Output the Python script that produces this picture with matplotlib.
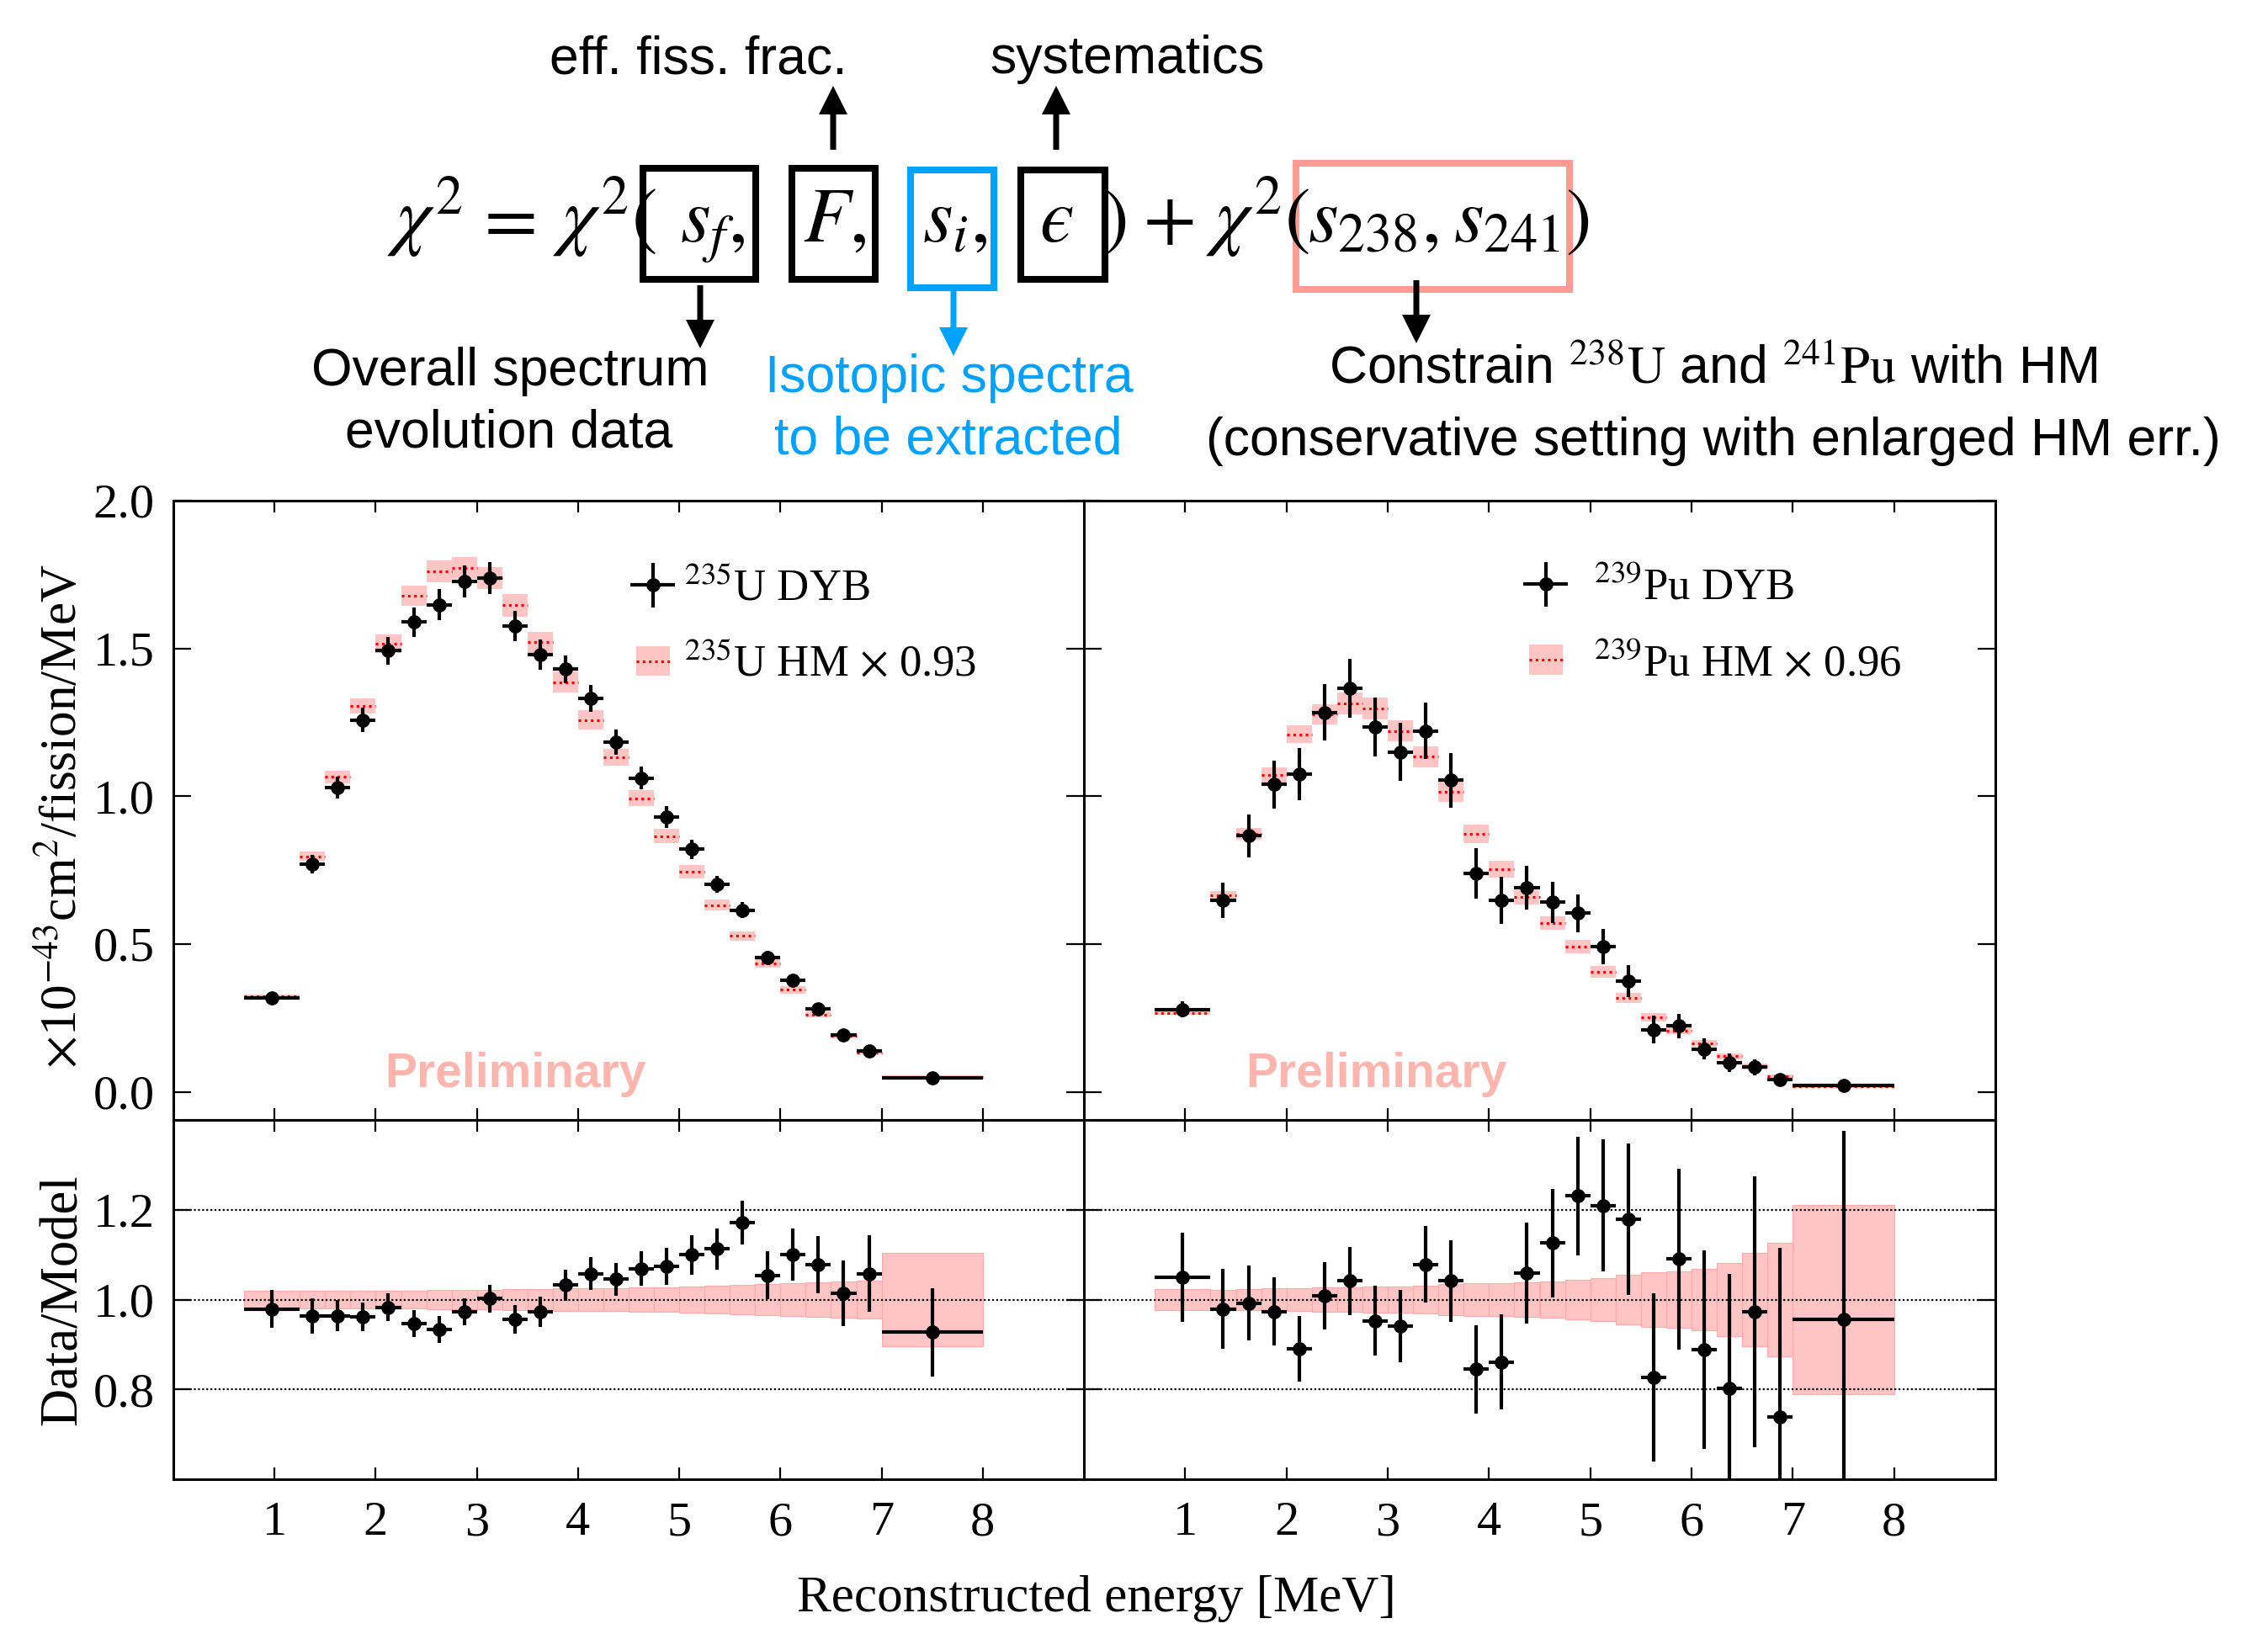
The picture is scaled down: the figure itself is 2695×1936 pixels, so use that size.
import matplotlib
matplotlib.use('Agg')
import matplotlib.pyplot as plt
import matplotlib.transforms as mtransforms
from matplotlib.patches import Rectangle, FancyArrow, Patch
from matplotlib.lines import Line2D
import numpy as np

plt.rcParams['font.family'] = ['Liberation Serif', 'DejaVu Serif']
plt.rcParams['mathtext.fontset'] = 'stix'

# ---------------- data ----------------
bin_edges = [0.7, 1.25, 1.5, 1.75, 2.0, 2.25, 2.5, 2.75, 3.0, 3.25, 3.5, 3.75,
             4.0, 4.25, 4.5, 4.75, 5.0, 5.25, 5.5, 5.75, 6.0, 6.25, 6.5, 6.75,
             7.0, 8.0]

u235_dyb = [0.317, 0.770, 1.028, 1.258, 1.492, 1.589, 1.648, 1.727, 1.738, 1.575,
            1.479, 1.430, 1.331, 1.183, 1.062, 0.930, 0.821, 0.702, 0.615, 0.455,
            0.378, 0.281, 0.193, 0.138, 0.047]
u235_dyb_err = [0.014, 0.031, 0.037, 0.042, 0.047, 0.050, 0.053, 0.053, 0.054, 0.051,
                0.050, 0.047, 0.045, 0.042, 0.039, 0.036, 0.033, 0.029, 0.026, 0.023,
                0.020, 0.017, 0.014, 0.011, 0.005]
u235_hm = [0.323, 0.797, 1.065, 1.306, 1.516, 1.679, 1.761, 1.771, 1.738, 1.646,
           1.521, 1.386, 1.258, 1.131, 0.993, 0.865, 0.745, 0.632, 0.527, 0.434,
           0.345, 0.262, 0.189, 0.134, 0.051]
u235_hm_err = [0.006, 0.015, 0.020, 0.026, 0.030, 0.034, 0.037, 0.037, 0.038, 0.038,
               0.035, 0.035, 0.033, 0.029, 0.027, 0.024, 0.022, 0.019, 0.017, 0.015,
               0.012, 0.010, 0.008, 0.006, 0.005]
u235_ratio = [0.979, 0.964, 0.964, 0.961, 0.983, 0.947, 0.934, 0.973, 1.002, 0.956,
              0.973, 1.032, 1.058, 1.045, 1.069, 1.074, 1.100, 1.113, 1.172, 1.054,
              1.101, 1.078, 1.014, 1.058, 0.927]
u235_ratio_err = [0.042, 0.039, 0.035, 0.032, 0.031, 0.030, 0.030, 0.030, 0.031, 0.031,
                  0.033, 0.034, 0.036, 0.037, 0.039, 0.042, 0.044, 0.046, 0.049, 0.053,
                  0.058, 0.064, 0.073, 0.085, 0.098]
u235_band = [0.019, 0.019, 0.019, 0.020, 0.020, 0.020, 0.021, 0.021, 0.022, 0.023,
             0.023, 0.025, 0.026, 0.026, 0.027, 0.028, 0.029, 0.030, 0.032, 0.034,
             0.036, 0.038, 0.040, 0.043, 0.104]

pu239_dyb = [0.279, 0.648, 0.866, 1.040, 1.076, 1.284, 1.366, 1.234, 1.150, 1.221,
             1.054, 0.739, 0.648, 0.692, 0.641, 0.604, 0.491, 0.375, 0.210, 0.223,
             0.145, 0.098, 0.083, 0.041, 0.021]
pu239_dyb_err = [0.026, 0.059, 0.072, 0.081, 0.088, 0.096, 0.100, 0.100, 0.099, 0.096,
                 0.092, 0.086, 0.080, 0.074, 0.069, 0.065, 0.060, 0.054, 0.047, 0.041,
                 0.036, 0.031, 0.026, 0.021, 0.009]
pu239_hm = [0.266, 0.665, 0.872, 1.072, 1.210, 1.276, 1.313, 1.297, 1.221, 1.134,
            1.014, 0.873, 0.754, 0.658, 0.571, 0.491, 0.406, 0.317, 0.252, 0.207,
            0.163, 0.121, 0.086, 0.052, 0.018]
pu239_hm_err = [0.006, 0.015, 0.020, 0.027, 0.031, 0.034, 0.037, 0.038, 0.035, 0.035,
                0.034, 0.031, 0.028, 0.025, 0.023, 0.022, 0.019, 0.017, 0.015, 0.013,
                0.011, 0.010, 0.009, 0.006, 0.004]
pu239_ratio = [1.050, 0.979, 0.992, 0.973, 0.890, 1.008, 1.042, 0.953, 0.941, 1.078,
               1.042, 0.845, 0.861, 1.059, 1.126, 1.231, 1.209, 1.179, 0.827, 1.090,
               0.889, 0.803, 0.973, 0.738, 0.956]
pu239_ratio_err = [0.099, 0.089, 0.083, 0.076, 0.073, 0.075, 0.076, 0.077, 0.081, 0.085,
                   0.091, 0.098, 0.106, 0.113, 0.121, 0.132, 0.147, 0.169, 0.187, 0.202,
                   0.221, 0.255, 0.302, 0.378, 0.420]
pu239_band = [0.023, 0.022, 0.023, 0.025, 0.026, 0.027, 0.028, 0.029, 0.029, 0.031,
              0.034, 0.036, 0.037, 0.038, 0.040, 0.044, 0.048, 0.055, 0.060, 0.062,
              0.069, 0.082, 0.104, 0.126, 0.210]

x_ticks = [1, 2, 3, 4, 5, 6, 7, 8]
upper_yticks = [0.0, 0.5, 1.0, 1.5, 2.0]
lower_yticks = [0.8, 1.0, 1.2]

labels_u = [r'$^{235}$U DYB', r'$^{235}$U HM $\times$ 0.93']
labels_pu = [r'$^{239}$Pu DYB', r'$^{239}$Pu HM $\times$ 0.96']

# ---------------- styles ----------------
PINK = '#FFC4C4'
PINK_EDGE = '#FFA9A9'
PRELIM = '#FDB5AE'
BLUE = '#00A2FF'
SALMON = '#FF9B93'

W, H = 2695, 1936
fig = plt.figure(figsize=(W / 100, H / 100), dpi=100)


def rect(x0, y0, x1, y1):
    return [x0 / W, 1 - y1 / H, (x1 - x0) / W, (y1 - y0) / H]


ax_ul = fig.add_axes(rect(206, 595, 1288, 1331))
ax_ll = fig.add_axes(rect(206, 1331, 1288, 1758))
ax_ur = fig.add_axes(rect(1288, 595, 2371, 1331))
ax_lr = fig.add_axes(rect(1288, 1331, 2371, 1758))

edges = np.array(bin_edges)
lo, hi = edges[:-1], edges[1:]
centers = (lo + hi) / 2
widths = hi - lo


def style_axes(ax, lower, left):
    ax.set_xlim(0, 9)
    ax.set_xticks(x_ticks)
    for s in ax.spines.values():
        s.set_linewidth(2.2)
    ax.tick_params(axis='both', which='both', direction='in', top=True, right=True,
                   width=1.6, labelsize=42)
    ax.tick_params(axis='x', length=10, pad=19)
    ax.tick_params(axis='y', length=15, pad=16)
    if lower:
        ax.set_ylim(0.6, 1.4)
        ax.set_yticks(lower_yticks)
        ax.set_yticklabels(['%.1f' % v for v in lower_yticks])
    else:
        ax.set_ylim(-0.095, 2.0)
        ax.set_yticks(upper_yticks)
        ax.set_yticklabels(['%.1f' % v for v in upper_yticks])
        ax.tick_params(labelbottom=False)
    if not left:
        ax.tick_params(labelleft=False)


def draw_upper(ax, dyb, dyb_err, hm, hm_err, labels, leg_x, text_pad):
    hm = np.array(hm)
    hm_err = np.array(hm_err)
    ax.bar(centers, 2 * hm_err, bottom=hm - hm_err, width=widths, color=PINK,
           edgecolor='none', zorder=1)
    ax.hlines(hm, lo, hi, colors='red', linestyles=(0, (1, 1.4)), linewidth=2.2, zorder=2)
    eb = ax.errorbar(centers, dyb, xerr=widths / 2, yerr=dyb_err, fmt='o', color='black',
                     ms=11, elinewidth=3, capsize=0, zorder=3)
    hm_handle = (Patch(facecolor=PINK, edgecolor='none'),
                 Line2D([0, 1], [0, 0], color='red', linestyle=(0, (1, 1.4)), linewidth=2.2))
    ax.legend([eb, hm_handle], labels, loc='upper left', bbox_to_anchor=(leg_x, 0.892),
              frameon=False, fontsize=38, handlelength=0.76, handleheight=0.66,
              handletextpad=text_pad, labelspacing=0.76, borderpad=0, borderaxespad=0)


def draw_lower(ax, ratio, ratio_err, band):
    band = np.array(band)
    ax.bar(centers, 2 * band, bottom=1 - band, width=widths, color=PINK,
           edgecolor=PINK_EDGE, linewidth=0.8, zorder=1)
    for yv in lower_yticks:
        ax.axhline(yv, color='black', linestyle=(0, (1, 1.2)), linewidth=1.6, zorder=2)
    ax.errorbar(centers, ratio, xerr=widths / 2, yerr=ratio_err, fmt='o', color='black',
                ms=11, elinewidth=3, capsize=0, zorder=3)


draw_upper(ax_ul, u235_dyb, u235_dyb_err, u235_hm, u235_hm_err, labels_u, 0.508, 0.33)
draw_upper(ax_ur, pu239_dyb, pu239_dyb_err, pu239_hm, pu239_hm_err, labels_pu, 0.488, 0.7)
draw_lower(ax_ll, u235_ratio, u235_ratio_err, u235_band)
draw_lower(ax_lr, pu239_ratio, pu239_ratio_err, pu239_band)

style_axes(ax_ul, False, True)
style_axes(ax_ur, False, False)
style_axes(ax_ll, True, True)
style_axes(ax_lr, True, False)

for ax, xf in [(ax_ul, 0.376), (ax_ur, 0.321)]:
    ax.text(xf, 0.053, 'Preliminary', transform=ax.transAxes, ha='center', va='baseline',
            fontsize=41, fontweight='bold', color=PRELIM,
            family=['Liberation Sans', 'DejaVu Sans'], zorder=0)

ax_ul.set_ylabel(r'$\times$10$^{-43}$cm$^{2}$/fission/MeV', fontsize=44)
ax_ul.yaxis.set_label_coords(-0.094, 0.49)
ax_ll.set_ylabel('Data/Model', fontsize=45)
ax_ll.yaxis.set_label_coords(-0.094, 0.5)

pix = mtransforms.Affine2D().scale(1 / W, -1 / H).translate(0, 1) + fig.transFigure

fig.text(1303, 1915, 'Reconstructed energy [MeV]', transform=pix, ha='center',
         va='baseline', fontsize=44)

# ---------------- top annotation ----------------
SANS = ['Liberation Sans', 'DejaVu Sans']
ann_fs = 45
for x, y, s, c in [
    (830, 87, 'eff. fiss. frac.', 'black'),
    (1340, 87, 'systematics', 'black'),
    (606, 458, 'Overall spectrum', 'black'),
    (605, 532, 'evolution data', 'black'),
    (1128, 466, 'Isotopic spectra', BLUE),
    (1127, 539, 'to be extracted', BLUE),
    (2036, 455, r'Constrain $^{238}\mathrm{U}$ and $^{241}\mathrm{Pu}$ with HM', 'black'),
    (2036, 541, '(conservative setting with enlarged HM err.)', 'black'),
]:
    fig.text(x, y, s, transform=pix, ha='center', va='baseline', fontsize=ann_fs,
             color=c, family=SANS)

eq_fs = 66
eq_base = 287
for x, s in [
    (460, r'$\chi^2$'), (562, r'$=$'), (657, r'$\chi^2($'),
    (808, r'$s_f,$'), (954, r'$F,$'), (1096, r'$s_i,$'), (1235, '$\u03f5$'),
    (1310, r'$)$'), (1358, r'$+$'), (1433, r'$\chi^2($'),
    (1554, r'$s_{238},$'), (1727, r'$s_{241}$'), (1860, r'$)$'),
]:
    fig.text(x, eq_base, s, transform=pix, ha='left', va='baseline', fontsize=eq_fs)

box_lw = 5.8
for (x0, y0, x1, y1), c in [
    ((764, 200, 898, 332), 'black'),
    ((941, 200, 1040, 332), 'black'),
    ((1082, 202, 1181, 342), BLUE),
    ((1213, 202, 1313, 332), 'black'),
    ((1540, 194, 1865, 344), SALMON),
]:
    fig.add_artist(Rectangle((x0, y0), x1 - x0, y1 - y0, transform=pix, fill=False,
                             edgecolor=c, linewidth=box_lw))

for x, y0, y1, c in [
    (990, 178, 102, 'black'),
    (1255, 178, 102, 'black'),
    (832, 339, 414, 'black'),
    (1133, 346, 423, BLUE),
    (1683, 333, 408, 'black'),
]:
    fig.add_artist(FancyArrow(x, y0, 0, y1 - y0, width=7, head_width=34, head_length=34,
                              length_includes_head=True, transform=pix, color=c,
                              linewidth=0))

fig.savefig('out.png', dpi=100)
